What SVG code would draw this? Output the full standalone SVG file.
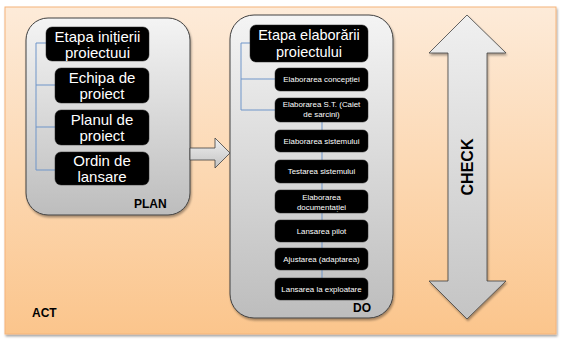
<svg xmlns="http://www.w3.org/2000/svg" width="566" height="347" viewBox="0 0 566 347">
<defs>
<linearGradient id="bg" x1="0" y1="0" x2="0" y2="1"><stop offset="0" stop-color="#fdebd9"/><stop offset="1" stop-color="#fbc58c"/></linearGradient>
<linearGradient id="gr" x1="0" y1="0" x2="0" y2="1"><stop offset="0" stop-color="#f4f4f4"/><stop offset="1" stop-color="#bdbdbd"/></linearGradient>
<linearGradient id="grh" x1="0" y1="0" x2="0" y2="1"><stop offset="0" stop-color="#f0f0f0"/><stop offset="1" stop-color="#c4c4c4"/></linearGradient>
<filter id="sh" x="-5%" y="-5%" width="110%" height="110%"><feDropShadow dx="1" dy="2" stdDeviation="1.2" flood-color="#000" flood-opacity="0.35"/></filter>
</defs>
<style>
.panel{fill:url(#gr);stroke:#404040;stroke-width:1}
.blk{fill:#000;stroke:#222;stroke-width:0.5}
.t{font-family:"Liberation Sans",Arial,sans-serif;fill:#fff;text-anchor:middle}
.big{font-size:15px}
.sm{font-size:7.9px}
.lbl{font-family:"Liberation Sans",Arial,sans-serif;font-weight:bold;fill:#000}
.con{stroke:#6f95c9;stroke-width:1;fill:none}
.arw{fill:url(#grh);stroke:#404040;stroke-width:0.8}
</style>
<rect x="5" y="7" width="551" height="327" fill="url(#bg)" stroke="#f5b47a" stroke-width="1" filter="url(#sh)"/>
<text class="lbl" x="32" y="317" font-size="12">ACT</text>

<g id="plan">
<rect class="panel" x="26" y="18" width="164" height="197" rx="22" filter="url(#sh)"/>
<text class="lbl" x="134" y="208" font-size="12">PLAN</text>
</g>

<g id="do">
<rect class="panel" x="230" y="15" width="163" height="303" rx="24" filter="url(#sh)"/>
<text class="lbl" x="353" y="312" font-size="12">DO</text>
</g>

<g id="check">
<polygon class="arw" points="467,15 506,53 487,53 487,281 506,281 467,319 429,281 448,281 448,53 429,53" filter="url(#sh)"/>
<text class="lbl" x="0" y="0" font-size="16" text-anchor="middle" transform="translate(473,167) rotate(-90)">CHECK</text>
</g>

<g id="plan-do-arrow">
<polygon class="arw" points="190,148 215,148 215,138 230,153 215,168 215,160 190,160"/>
</g>

<g id="connectors">
<path class="con" d="M36,43 V170 M36,43 H46 M36,85 H55 M36,127 H55 M36,170 H55"/>
<path class="con" d="M241,43 V110 M241,43 H250 M241,79 H275 M241,110 H275"/>
<path class="con" d="M322,122 V130 M322,152 V160 M322,183 V190 M322,213 V220 M322,242 V248 M322,270 V278"/>
</g>

<g id="n1"><rect class="blk" x="46" y="27" width="103" height="34" rx="6"/><text class="t big" x="97.5" y="42">Etapa inițierii</text><text class="t big" x="97.5" y="58">proiectuui</text></g>
<g id="n2"><rect class="blk" x="55" y="68" width="94" height="35" rx="6"/><text class="t big" x="102" y="83">Echipa de</text><text class="t big" x="102" y="99">proiect</text></g>
<g id="n3"><rect class="blk" x="55" y="110" width="94" height="35" rx="6"/><text class="t big" x="102" y="125">Planul de</text><text class="t big" x="102" y="141">proiect</text></g>
<g id="n4"><rect class="blk" x="55" y="152" width="94" height="33" rx="6" fill="#111"/><text class="t big" x="102" y="166">Ordin de</text><text class="t big" x="102" y="182">lansare</text></g>

<g id="d0"><rect class="blk" x="250" y="25" width="118" height="37" rx="6"/><text class="t" font-size="14.5" x="309" y="40">Etapa elaborării</text><text class="t" font-size="14.5" x="309" y="57">proiectului</text></g>
<g id="d1"><rect class="blk" x="275" y="68" width="93" height="23" rx="5"/><text class="t sm" x="321.5" y="82">Elaborarea concepției</text></g>
<g id="d2"><rect class="blk" x="275" y="98" width="93" height="24" rx="5"/><text class="t sm" x="321.5" y="107">Elaborarea S.T. (Caiet</text><text class="t sm" x="321.5" y="117">de sarcini)</text></g>
<g id="d3"><rect class="blk" x="275" y="130" width="93" height="22" rx="5"/><text class="t sm" x="321.5" y="143.5">Elaborarea sistemului</text></g>
<g id="d4"><rect class="blk" x="275" y="160" width="93" height="23" rx="5"/><text class="t sm" x="321.5" y="174">Testarea sistemului</text></g>
<g id="d5"><rect class="blk" x="275" y="190" width="93" height="23" rx="5"/><text class="t sm" x="321.5" y="199.5">Elaborarea</text><text class="t sm" x="321.5" y="209.5">documentației</text></g>
<g id="d6"><rect class="blk" x="275" y="220" width="93" height="22" rx="5"/><text class="t sm" x="321.5" y="233.5">Lansarea pilot</text></g>
<g id="d7"><rect class="blk" x="275" y="248" width="93" height="22" rx="5"/><text class="t sm" x="321.5" y="261.5">Ajustarea (adaptarea)</text></g>
<g id="d8"><rect class="blk" x="275" y="278" width="93" height="22" rx="5"/><text class="t sm" x="321.5" y="291.5">Lansarea la exploatare</text></g>
</svg>
